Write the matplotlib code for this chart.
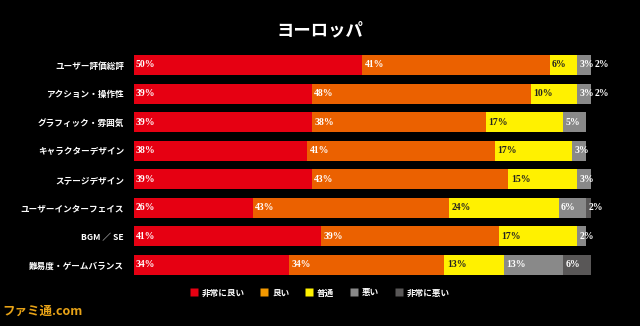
import matplotlib.pyplot as plt
from matplotlib.lines import Line2D
import numpy as np

plt.rcParams['font.family'] = ['Noto Sans CJK JP', 'DejaVu Sans']

categories = ['ユーザー評価総評', 'アクション・操作性', 'グラフィック・雰囲気', 'キャラクターデザイン',
              'ステージデザイン', 'ユーザーインターフェイス', 'BGM ／ SE', '難易度・ゲームバランス']
series = ['非常に良い', '良い', '普通', '悪い', '非常に悪い']
very_good = [50, 39, 39, 38, 39, 26, 41, 34]
good = [41, 48, 38, 41, 43, 43, 39, 34]
normal = [6, 10, 17, 17, 15, 24, 17, 13]
bad = [3, 3, 5, 3, 3, 6, 2, 13]
very_bad = [2, 2, 0, 0, 0, 2, 0, 6]

colors = ['#e60012', '#eb6100', '#fff100', '#898989', '#595757']
legend_colors = ['#e60012', '#f39800', '#fff100', '#898989', '#595757']
text_colors = ['white', 'white', '#222222', 'white', 'white']

fig = plt.figure(figsize=(6.4, 3.26), dpi=100, facecolor='black')
ax = fig.add_axes([0.209, 0.1433, 0.714, 0.7012])
ax.set_facecolor('black')

y = np.arange(len(categories))
data = [very_good, good, normal, bad, very_bad]
left = np.zeros(len(categories))
for vals, c, tc in zip(data, colors, text_colors):
    vals = np.array(vals, dtype=float)
    ax.barh(y, vals, left=left, height=0.7, color=c, edgecolor='none')
    for i, v in enumerate(vals):
        if v <= 0:
            continue
        x = left[i] + 0.5
        col = tc
        if left[i] >= 100:
            x = 100.8
            col = 'white'
        ax.text(x, y[i], '%d%%' % v, ha='left', va='center', fontsize=7, fontweight='bold',
                color=col, family=['Liberation Serif', 'DejaVu Serif'], clip_on=False)
    left += vals

ax.set_xlim(0, 100)
ax.set_ylim(len(categories) - 0.5, -0.5)
ax.set_yticks(y)
ax.set_yticklabels(categories, fontsize=6.2, color='white', fontweight='bold')
ax.tick_params(axis='y', length=0, pad=7)
ax.set_xticks([])
for s in ax.spines.values():
    s.set_visible(False)

fig.text(0.5, 0.908, 'ヨーロッパ', ha='center', va='center', fontsize=12.5,
         color='white', fontweight='bold')

handles = [Line2D([], [], marker='s', linestyle='none', markersize=5.5,
                  markerfacecolor=c, markeredgecolor='none') for c in legend_colors]
leg = fig.legend(handles, series, loc='center', bbox_to_anchor=(0.5, 1 - 293 / 326),
                 ncol=5, frameon=False, prop={'size': 6.2, 'weight': 'bold'},
                 handlelength=0.8, handletextpad=0.5, columnspacing=1.9)
for t in leg.get_texts():
    t.set_color('white')

fig.text(0.003, 0.045, 'ファミ通.com', ha='left', va='center', fontsize=9,
         color='#e8a317', fontweight='bold')

fig.savefig('out.png', dpi=100, facecolor='black')
